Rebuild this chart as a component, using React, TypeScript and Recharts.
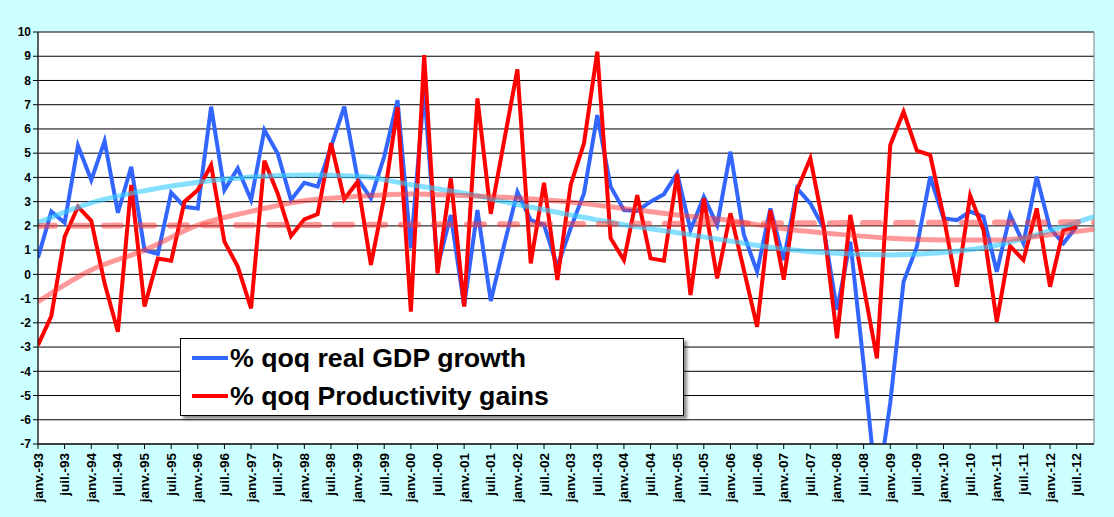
import React from 'react';
import {
  LineChart,
  Line,
  XAxis,
  YAxis,
  CartesianGrid,
  ReferenceArea,
} from 'recharts';

// quarterly labels shown on the axis (every second quarter)
const TICK_LABELS = [
  'janv.-93', 'juil.-93', 'janv.-94', 'juil.-94', 'janv.-95', 'juil.-95', 'janv.-96', 'juil.-96',
  'janv.-97', 'juil.-97', 'janv.-98', 'juil.-98', 'janv.-99', 'juil.-99', 'janv.-00', 'juil.-00',
  'janv.-01', 'juil.-01', 'janv.-02', 'juil.-02', 'janv.-03', 'juil.-03', 'janv.-04', 'juil.-04',
  'janv.-05', 'juil.-05', 'janv.-06', 'juil.-06', 'janv.-07', 'juil.-07', 'janv.-08', 'juil.-08',
  'janv.-09', 'juil.-09', 'janv.-10', 'juil.-10', 'janv.-11', 'juil.-11', 'janv.-12', 'juil.-12',
];

// % qoq real GDP growth, janv.-93 .. juil.-12
const GDP = [
  0.69, 2.59, 2.13, 5.31, 3.89, 5.5, 2.54, 4.44, 1.0, 0.84,
  3.37, 2.79, 2.72, 6.92, 3.48, 4.37, 3.07, 5.96, 4.99, 3.07,
  3.78, 3.62, 5.25, 6.92, 3.95, 3.14, 4.86, 7.19, 1.07, 7.6,
  0.3, 2.45, -1.3, 2.65, -1.1, 1.2, 3.4, 2.24, 2.04, 0.32,
  1.9, 3.34, 6.57, 3.62, 2.65, 2.62, 3.0, 3.31, 4.17, 1.83,
  3.2, 2.04, 5.06, 1.65, 0.11, 2.72, 0.59, 3.55, 2.93, 1.9,
  -1.47, 1.35, -3.7, -9.1, -5.3, -0.3, 1.14, 4.03, 2.31, 2.24,
  2.59, 2.38, 0.11, 2.45, 1.28, 4.03, 1.9, 1.28, 1.97,
];

// % qoq Productivity gains
const PROD = [
  -2.92, -1.72, 1.55, 2.79, 2.21, -0.37, -2.37, 3.69, -1.33, 0.65,
  0.56, 3.0, 3.48, 4.51, 1.35, 0.32, -1.4, 4.69, 3.34, 1.58,
  2.27, 2.49, 5.41, 3.1, 3.82, 0.39, 3.2, 6.89, -1.54, 9.05,
  0.04, 3.96, -1.33, 7.26, 2.5, 5.5, 8.46, 0.45, 3.78, -0.23,
  3.69, 5.41, 9.19, 1.49, 0.59, 3.27, 0.66, 0.56, 4.14, -0.85,
  3.14, -0.17, 2.52, 0.2, -2.16, 2.65, -0.22, 3.48, 4.79, 1.97,
  -2.64, 2.45, -0.5, -3.47, 5.34, 6.71, 5.1, 4.92, 2.4, -0.51,
  3.25, 1.83, -1.95, 1.17, 0.59, 2.72, -0.51, 1.83, 1.94,
];

// trend curves at a few quarters
const TREND_AT = [0, 4, 8, 12, 16, 20, 24, 28, 32, 36, 40, 44, 48, 52, 56, 60, 64, 68, 72, 76, 79.3];
const GDP_TREND = [2.13, 2.95, 3.45, 3.8, 4.02, 4.1, 4.05, 3.7, 3.35, 2.88, 2.45, 2.05, 1.72, 1.37, 1.05, 0.87, 0.8, 0.9, 1.2, 1.8, 2.38];
const PROD_TREND = [-1.13, 0.18, 1.0, 2.03, 2.6, 3.04, 3.22, 3.32, 3.25, 3.15, 2.98, 2.72, 2.45, 2.22, 1.88, 1.66, 1.49, 1.42, 1.42, 1.63, 1.86];

// linear trend of productivity (dashed)
const LINEAR_AT = [0, 79.3];
const PROD_LINEAR = [2.0, 2.15];

const Y_TICKS = [-7, -6, -5, -4, -3, -2, -1, 0, 1, 2, 3, 4, 5, 6, 7, 8, 9, 10];
const X_MAX = 79.3;

const FONT = '"Liberation Sans", Arial, sans-serif';

const rows: Record<string, number | null>[] = [];
const idx = new Set<number>([...GDP.map((_, i) => i), ...TREND_AT, ...LINEAR_AT]);
Array.from(idx)
  .sort((a, b) => a - b)
  .forEach((i) => {
    const t = TREND_AT.indexOf(i);
    const l = LINEAR_AT.indexOf(i);
    rows.push({
      i,
      gdp: Number.isInteger(i) && i < GDP.length ? GDP[i] : null,
      prod: Number.isInteger(i) && i < PROD.length ? PROD[i] : null,
      gdpTrend: t >= 0 ? GDP_TREND[t] : null,
      prodTrend: t >= 0 ? PROD_TREND[t] : null,
      prodLinear: l >= 0 ? PROD_LINEAR[l] : null,
    });
  });

const xTicks = TICK_LABELS.map((_, k) => k * 2);

function DateTick({ x, y, payload }: any) {
  const label = TICK_LABELS[Math.round(payload.value / 2)] ?? '';
  const ty = y + 2;
  return (
    <text
      x={x}
      y={ty}
      transform={`rotate(-90 ${x} ${ty})`}
      textAnchor="end"
      dominantBaseline="central"
      fontFamily={FONT}
      fontWeight="bold"
      fontSize={13.5}
      fill="#000"
    >
      {label}
    </text>
  );
}

function LegendBox() {
  const row = (color: string, text: string) => (
    <div style={{ display: 'flex', alignItems: 'center', height: 38 }}>
      <div style={{ width: 36, height: 4, background: color, marginLeft: 11, marginRight: 2 }} />
      <span style={{ fontFamily: FONT, fontWeight: 'bold', fontSize: 26.7, color: '#000' }}>{text}</span>
    </div>
  );
  return (
    <div
      style={{
        position: 'absolute',
        left: 180,
        top: 338,
        width: 502,
        height: 76,
        background: '#fff',
        border: '1px solid #000',
        boxShadow: '3px 3px 3px rgba(0,0,0,0.45)',
      }}
    >
      {row('#3366ff', '% qoq real GDP growth')}
      {row('#ff0000', '% qoq Productivity gains')}
    </div>
  );
}

export default function App() {
  return (
    <div style={{ position: 'absolute', left: 0, top: 0, width: 1114, height: 517, background: '#ccffff' }}>
      <LineChart width={1114} height={517} data={rows} margin={{ top: 32, right: 20, bottom: 3, left: 0 }}>
        <CartesianGrid
          vertical={false}
          stroke="#000"
          strokeWidth={1}
          fill="#fff"
          fillOpacity={1}
        />
        <ReferenceArea x1={0} x2={X_MAX} y1={-7} y2={10} fill="none" stroke="#808080" strokeWidth={1} />
        <XAxis
          dataKey="i"
          type="number"
          domain={[0, X_MAX]}
          ticks={xTicks}
          interval={0}
          height={70}
          tick={<DateTick />}
          tickLine={{ stroke: '#000' }}
          tickSize={5}
          axisLine={{ stroke: '#000' }}
          allowDataOverflow
        />
        <YAxis
          type="number"
          domain={[-7, 10]}
          ticks={Y_TICKS}
          interval={0}
          width={38}
          allowDataOverflow
          tickSize={5}
          tickLine={{ stroke: '#000' }}
          axisLine={{ stroke: '#000' }}
          tick={{ fontFamily: FONT, fontWeight: 'bold', fontSize: 12, fill: '#000' }}
        />
        <Line
          dataKey="gdp"
          type="linear"
          stroke="#3366ff"
          strokeWidth={4}
          dot={false}
          connectNulls
          isAnimationActive={false}
        />
        <Line
          dataKey="prod"
          type="linear"
          stroke="#ff0000"
          strokeWidth={4}
          dot={false}
          connectNulls
          isAnimationActive={false}
        />
        <Line
          dataKey="gdpTrend"
          type="monotone"
          stroke="#33ccff"
          strokeOpacity={0.6}
          strokeWidth={5}
          dot={false}
          connectNulls
          isAnimationActive={false}
        />
        <Line
          dataKey="prodTrend"
          type="monotone"
          stroke="#ff3333"
          strokeOpacity={0.5}
          strokeWidth={5}
          dot={false}
          connectNulls
          isAnimationActive={false}
        />
        <Line
          dataKey="prodLinear"
          type="linear"
          stroke="#ff3333"
          strokeOpacity={0.5}
          strokeWidth={6}
          strokeDasharray="17 16"
          strokeLinecap="round"
          dot={false}
          connectNulls
          isAnimationActive={false}
        />
      </LineChart>
      <LegendBox />
    </div>
  );
}
